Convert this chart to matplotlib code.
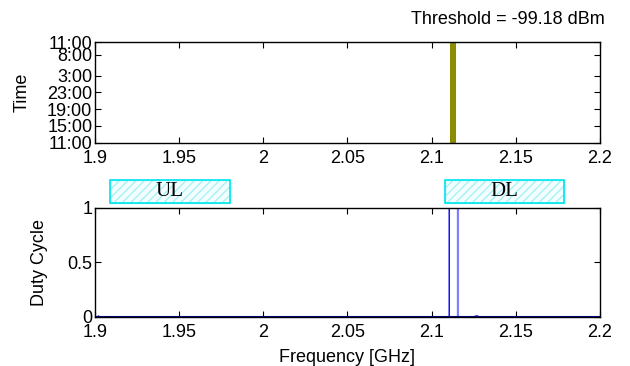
import numpy as np
import matplotlib
matplotlib.use("Agg")
import matplotlib.pyplot as plt
from matplotlib.patches import Rectangle

# occupancy (time vs frequency)
occ_freq = [2.1112, 2.1148]
time_ticks = [0, 4, 8, 12, 16, 21, 24]
time_labels = ["11:00", "15:00", "19:00", "23:00", "3:00", "8:00", "11:00"]

# duty cycle
freq = [1.9, 1.9015, 1.902, 1.9025, 2.1105, 2.1105, 2.1155, 2.1155, 2.1255, 2.126, 2.1275, 2.128, 2.2]
duty = [0, 0, 0.01, 0, 0, 1, 1, 0, 0, 0.008, 0.008, 0, 0]

bands = {"UL": (1.909, 1.980), "DL": (2.108, 2.179)}
threshold = -99.18

xticks = [1.9, 1.95, 2.0, 2.05, 2.1, 2.15, 2.2]
xlabels = ["1.9", "1.95", "2", "2.05", "2.1", "2.15", "2.2"]

fs = 13
plt.rcParams["font.family"] = ["Liberation Sans", "DejaVu Sans"]
fig = plt.figure(figsize=(6.3, 3.66), dpi=100)

ax1 = fig.add_axes([0.151, 0.610, 0.801, 0.275])
ax1.fill_between(occ_freq, 0, 24, color="#8c8c00", lw=0)
ax1.set_xlim(1.9, 2.2)
ax1.set_ylim(0, 24)
ax1.set_yticks(time_ticks)
ax1.set_yticklabels(time_labels)
ax1.set_xticks(xticks)
ax1.set_xticklabels(xlabels)
ax1.set_ylabel("Time", fontsize=fs, labelpad=12)
ax1.text(1.01, 1.22, f"Threshold = {threshold} dBm", transform=ax1.transAxes,
         ha="right", va="center", fontsize=fs)

ax2 = fig.add_axes([0.151, 0.134, 0.801, 0.298])
ax2.plot(freq, duty, color="#0000ff", lw=1)
ax2.plot(freq[6:8], duty[6:8], color="#8080ff", lw=1.5)
ax2.axhline(0, color="#00008b", lw=1.5)
ax2.set_xlim(1.9, 2.2)
ax2.set_ylim(0, 1)
ax2.set_yticks([0, 0.5, 1])
ax2.set_yticklabels(["0", "0.5", "1"])
ax2.set_xticks(xticks)
ax2.set_xticklabels(xlabels)
ax2.set_ylabel("Duty Cycle", fontsize=fs, labelpad=14)
ax2.set_xlabel("Frequency [GHz]", fontsize=fs, labelpad=6)

for name, (f0, f1) in bands.items():
    r = Rectangle((f0, 1.045), f1 - f0, 0.21, transform=ax2.get_xaxis_transform(),
                  clip_on=False, facecolor="#f4feff", edgecolor="#a6f2f6", hatch="////", lw=1)
    ax2.add_patch(r)
    r2 = Rectangle((f0, 1.045), f1 - f0, 0.21, transform=ax2.get_xaxis_transform(),
                   clip_on=False, facecolor="none", edgecolor="#00e5ee", lw=1.2)
    ax2.add_patch(r2)
    ax2.text((f0 + f1) / 2, 1.15, name, transform=ax2.get_xaxis_transform(),
             ha="center", va="center", fontsize=15, family="Liberation Serif")

for ax in (ax1, ax2):
    ax.tick_params(direction="in", top=True, right=True, labelsize=fs, length=4, pad=2)
    ax.tick_params(axis="x", pad=5)
    for s in ax.spines.values():
        s.set_linewidth(1)

fig.savefig("out.png", dpi=100)
